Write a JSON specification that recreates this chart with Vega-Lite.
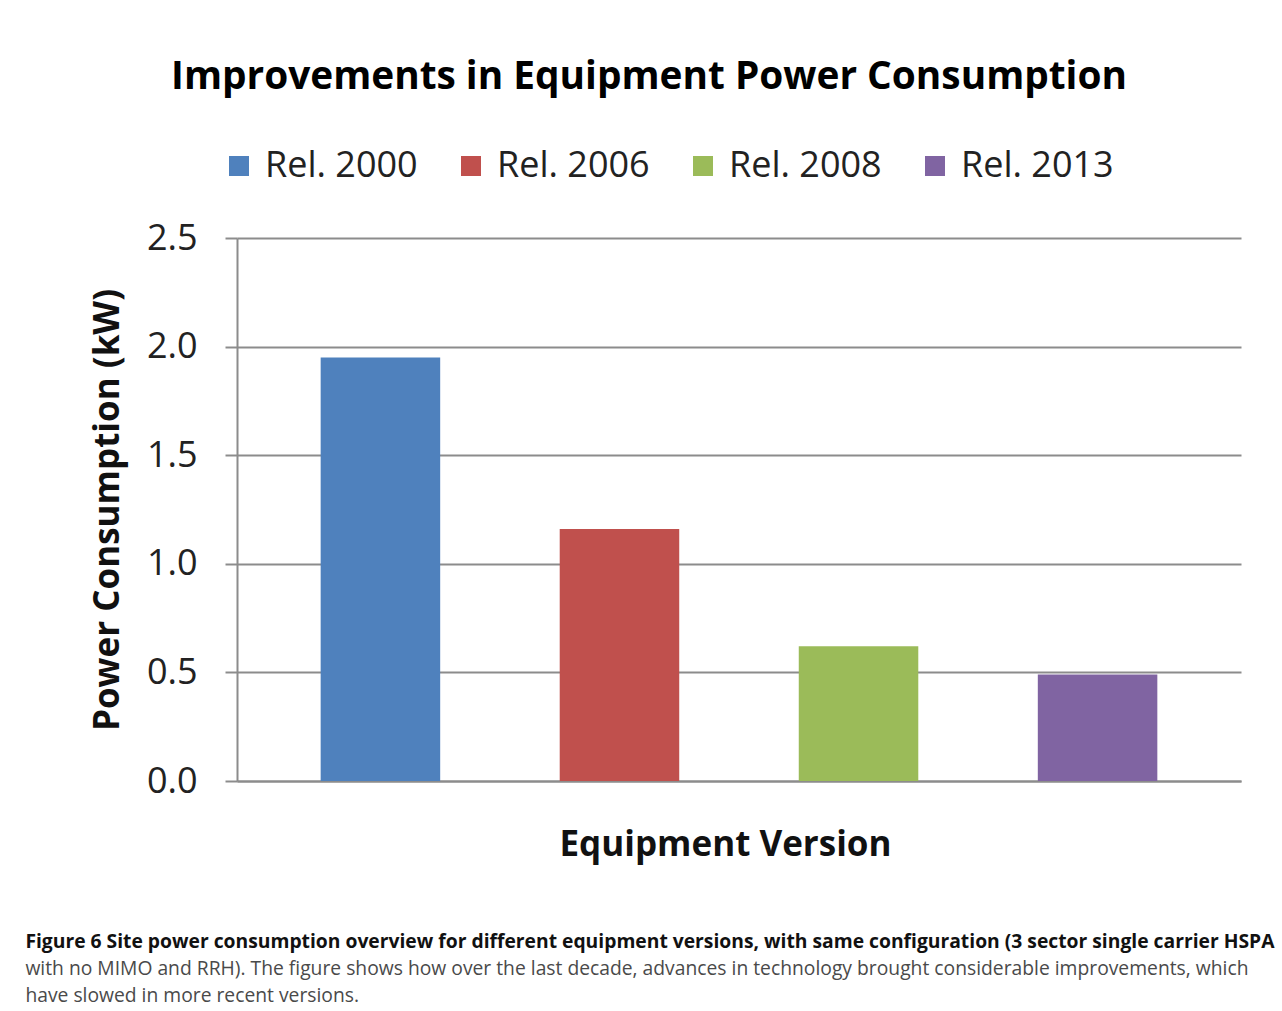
{
  "$schema": "https://vega.github.io/schema/vega-lite/v6.json",
  "background": "white",
  "padding": {"left": 25, "top": 58, "right": 5, "bottom": 5},
  "title": {
    "text": "Figure 6 Site power consumption overview for different equipment versions, with same configuration (3 sector single carrier HSPA",
    "subtitle": ["with no MIMO and RRH). The figure shows how over the last decade, advances in technology brought considerable improvements, which", "have slowed in more recent versions."],
    "orient": "bottom",
    "anchor": "start",
    "frame": "bounds",
    "dx": -65,
    "font": "Open Sans",
    "fontSize": 19.3,
    "fontWeight": "bold",
    "color": "#111111",
    "subtitleFont": "Open Sans",
    "subtitleFontSize": 19.3,
    "subtitleFontWeight": "normal",
    "subtitleColor": "#4a4a4a",
    "subtitlePadding": 8,
    "lineHeight": 27,
    "subtitleLineHeight": 27,
    "offset": 71,
    "limit": 1400
  },
  "vconcat": [
    {
      "width": 1004,
      "height": 543,
      "title": {
        "text": "Improvements in Equipment  Power Consumption",
        "font": "Open Sans",
        "fontSize": 38.8,
        "fontWeight": "bold",
        "color": "#000000",
        "anchor": "middle",
        "dx": -90,
        "offset": 123
      },
      "data": {
        "values": [
          {"version": "Rel. 2000", "power": 1.95},
          {"version": "Rel. 2006", "power": 1.16},
          {"version": "Rel. 2008", "power": 0.62},
          {"version": "Rel. 2013", "power": 0.49}
        ]
      },
      "mark": {"type": "bar"},
      "encoding": {
        "x": {
          "field": "version",
          "type": "nominal",
          "sort": null,
          "scale": {"paddingInner": 0.5, "paddingOuter": 0.35},
          "axis": {
            "labels": false,
            "ticks": false,
            "title": "Equipment Version",
            "titleFont": "Open Sans",
            "titleFontSize": 35,
            "titleFontWeight": "bold",
            "titleColor": "#111111",
            "titlePadding": 46,
            "titleX": 488,
            "domainColor": "#8c8c8c",
            "domainWidth": 2
          }
        },
        "y": {
          "field": "power",
          "type": "quantitative",
          "scale": {"domain": [0, 2.5]},
          "axis": {
            "values": [0, 0.5, 1, 1.5, 2, 2.5],
            "format": ".1f",
            "title": "Power Consumption (kW)",
            "titleFont": "Open Sans",
            "titleFontSize": 35,
            "titleFontWeight": "bold",
            "titleColor": "#111111",
            "titlePadding": 21,
            "labelFont": "Open Sans",
            "labelFontSize": 36,
            "labelColor": "#222222",
            "labelPadding": 28,
            "tickSize": 12,
            "tickColor": "#8c8c8c",
            "tickWidth": 2,
            "domainColor": "#8c8c8c",
            "domainWidth": 2,
            "grid": true,
            "gridColor": "#8c8c8c",
            "gridWidth": 2
          }
        },
        "color": {
          "field": "version",
          "type": "nominal",
          "scale": {"range": ["#4F81BD", "#C0504D", "#9BBB59", "#8064A2"]},
          "legend": {
            "orient": "none",
            "legendX": -16,
            "legendY": -90,
            "direction": "horizontal",
            "title": null,
            "symbolType": "square",
            "symbolSize": 400,
            "symbolStrokeWidth": 0,
            "labelFont": "Open Sans",
            "labelFontSize": 36,
            "labelColor": "#222222",
            "labelOffset": 8,
            "columnPadding": 35,
            "labelLimit": 300
          }
        }
      }
    }
  ],
  "config": {
    "view": {"stroke": null}
  }
}
